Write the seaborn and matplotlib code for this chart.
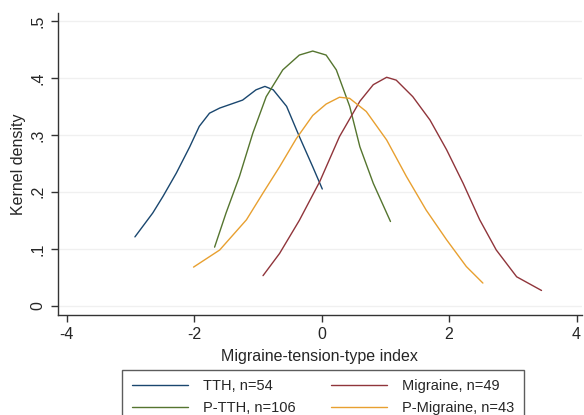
import numpy as np
import pandas as pd
import seaborn as sns
import matplotlib.pyplot as plt

# kernel density estimates
tth_x = [-2.93, -2.65, -2.49, -2.28, -2.07, -1.92, -1.76, -1.60, -1.24, -1.03, -0.89, -0.76, -0.55, -0.35, -0.14, 0.01]
tth_y = [0.121, 0.163, 0.192, 0.233, 0.279, 0.315, 0.338, 0.347, 0.361, 0.379, 0.385, 0.379, 0.350, 0.297, 0.244, 0.205]

ptth_x = [-1.68, -1.50, -1.29, -1.08, -0.87, -0.61, -0.35, -0.14, 0.07, 0.23, 0.44, 0.60, 0.81, 1.08]
ptth_y = [0.103, 0.163, 0.227, 0.303, 0.367, 0.414, 0.440, 0.447, 0.440, 0.414, 0.350, 0.279, 0.215, 0.148]

mig_x = [-0.92, -0.66, -0.35, -0.03, 0.28, 0.60, 0.81, 1.02, 1.17, 1.43, 1.70, 1.96, 2.22, 2.48, 2.74, 3.06, 3.45]
mig_y = [0.053, 0.092, 0.150, 0.218, 0.297, 0.359, 0.388, 0.401, 0.396, 0.367, 0.326, 0.274, 0.215, 0.151, 0.098, 0.051, 0.027]

pmig_x = [-2.01, -1.60, -1.18, -0.92, -0.66, -0.40, -0.14, 0.07, 0.28, 0.44, 0.70, 1.02, 1.33, 1.64, 1.96, 2.27, 2.53]
pmig_y = [0.068, 0.098, 0.151, 0.198, 0.244, 0.293, 0.334, 0.354, 0.366, 0.364, 0.341, 0.291, 0.227, 0.168, 0.116, 0.069, 0.040]

labels = ["TTH, n=54", "P-TTH, n=106", "Migraine, n=49", "P-Migraine, n=43"]
colors = ["#1a476f", "#55752f", "#90353b", "#e8a030"]

frames = []
for lab, xs, ys in zip(labels, [tth_x, ptth_x, mig_x, pmig_x], [tth_y, ptth_y, mig_y, pmig_y]):
    frames.append(pd.DataFrame({"x": xs, "y": ys, "group": lab}))
df = pd.concat(frames, ignore_index=True)

sns.set_style("white")
plt.rcParams["font.family"] = ["Liberation Sans", "DejaVu Sans"]

fig = plt.figure(figsize=(5.84, 4.15), dpi=100)
ax = fig.add_axes([0.099, 0.241, 0.897, 0.728])
sns.lineplot(data=df, x="x", y="y", hue="group", hue_order=labels,
             palette=colors, sort=False, estimator=None, linewidth=1.0, ax=ax, legend=False)

ax.set_xlim(-4.14, 4.08)
ax.set_ylim(-0.016, 0.514)
ax.set_xticks([-4, -2, 0, 2, 4])
ax.set_xticklabels(["-4", "-2", "0", "2", "4"])
ax.set_yticks([0, 0.1, 0.2, 0.3, 0.4, 0.5])
ax.set_yticklabels(["0", ".1", ".2", ".3", ".4", ".5"], rotation=90, va="center")
ax.yaxis.grid(True, color="#f0f0f0", linewidth=1.0)
ax.set_facecolor("white")
for s in ["top", "right"]:
    ax.spines[s].set_visible(False)
for s in ["left", "bottom"]:
    ax.spines[s].set_color("#333333")
    ax.spines[s].set_linewidth(1.0)
ax.tick_params(axis="both", length=5, width=1, color="#333333", labelsize=11.5, bottom=True, left=True, pad=4)
ax.set_xlabel("Migraine-tension-type index", fontsize=11.5, labelpad=5)
ax.set_ylabel("Kernel density", fontsize=11.5, labelpad=3)

handles = [plt.Line2D([], [], color=c, lw=1.0) for c in colors]
fig.legend(handles, labels, ncol=2, loc="upper left", bbox_to_anchor=(0.209, 0.1084),
           borderaxespad=0, frameon=True, fancybox=False, edgecolor="#333333", fontsize=10.5,
           handlelength=3.9, handletextpad=1.0, columnspacing=2.4,
           borderpad=0.65, labelspacing=0.5)

fig.savefig("out.png", dpi=100)
